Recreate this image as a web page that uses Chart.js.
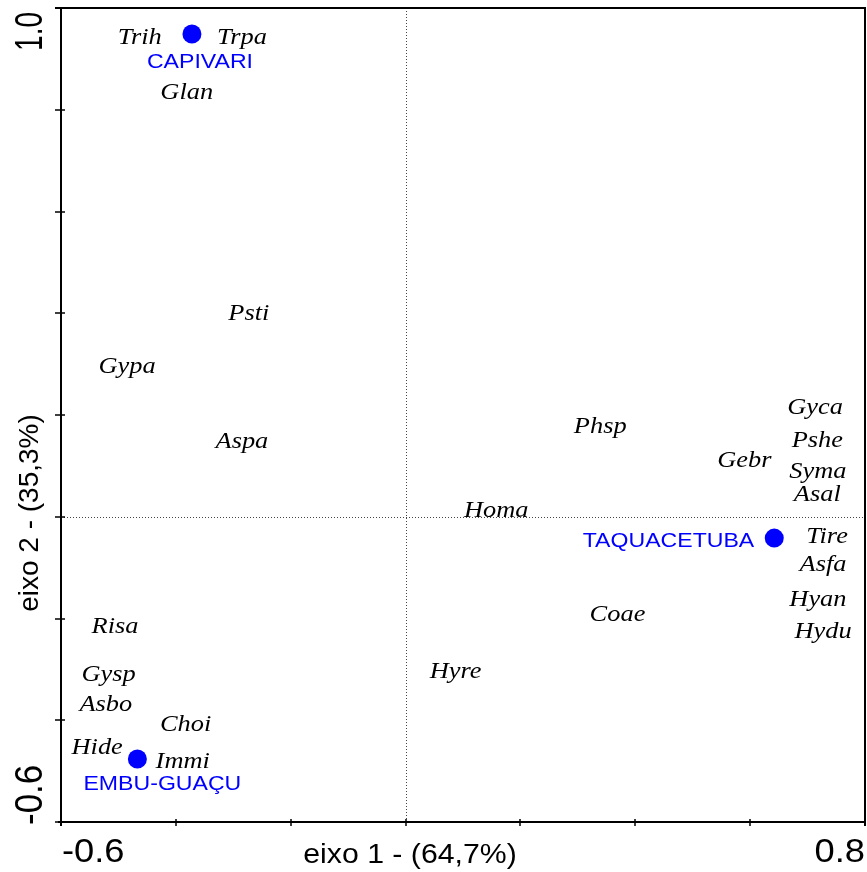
<!DOCTYPE html>
<html>
<head>
<meta charset="utf-8">
<script src="https://cdn.jsdelivr.net/npm/chart.js@4/dist/chart.umd.min.js"></script>
<style>
  html, body { margin: 0; padding: 0; background: #fff; overflow: hidden; }
  canvas { display: block; }
</style>
</head>
<body>
<canvas id="c" width="867" height="872" style="width:867px;height:872px"></canvas>
<script>
// Species scores (axis 1, axis 2)
const speciesNames = ['Trih','Trpa','Glan','Psti','Gypa','Aspa','Phsp','Gyca','Pshe','Gebr','Syma','Asal','Homa','Tire','Asfa','Coae','Hyan','Hydu','Risa','Hyre','Gysp','Asbo','Choi','Hide','Immi'];
const speciesX = [-0.463,-0.285,-0.381,-0.273,-0.485,-0.285, 0.339, 0.713, 0.717, 0.590, 0.718, 0.717, 0.158, 0.734, 0.727, 0.369, 0.718, 0.727,-0.506, 0.087,-0.517,-0.522,-0.383,-0.537,-0.388];
const speciesY = [ 0.941, 0.941, 0.833, 0.399, 0.294, 0.147, 0.178, 0.214, 0.149, 0.110, 0.088, 0.043, 0.011,-0.040,-0.095,-0.193,-0.164,-0.225,-0.217,-0.305,-0.311,-0.370,-0.409,-0.453,-0.482];

// Site scores
const siteNames = ['CAPIVARI','TAQUACETUBA','EMBU-GUAÇU'];
const siteX = [-0.372, 0.642, -0.467];
const siteY = [ 0.949,-0.042, -0.476];

// Axes
const xTicks = [-0.6,-0.4,-0.2,0,0.2,0.4,0.6,0.8];
const yTicks = [-0.6,-0.4,-0.2,0,0.2,0.4,0.6,0.8,1.0];
const xTickLabels = ['-0.6','0.8'];
const yTickLabels = ['1.0','-0.6'];
const xTitle = 'eixo 1 - (64,7%)';
const yTitle = 'eixo 2 - (35,3%)';

const BLUE = '#0000ff';
const SX = 1.1; // horizontal text stretch

function stretchedText(ctx, str, x, y, font, color, align, baseline, sx) {
  ctx.save();
  ctx.translate(x, y);
  ctx.scale(sx, 1);
  ctx.font = font;
  ctx.fillStyle = color;
  ctx.textAlign = align;
  ctx.textBaseline = baseline;
  ctx.fillText(str, 0, 0);
  ctx.restore();
}

function rotatedText(ctx, str, x, y, font, align, sx, sy) {
  ctx.save();
  ctx.translate(x, y);
  ctx.scale(sx, sy);
  ctx.rotate(-Math.PI / 2);
  ctx.font = font;
  ctx.fillStyle = '#000';
  ctx.textAlign = align;
  ctx.textBaseline = 'alphabetic';
  ctx.fillText(str, 0, 0);
  ctx.restore();
}

// label offsets for the site names, relative to their dots
const siteLabelStyle = [
  { dx: 8,   dy: 28, align: 'center' },
  { dx: -20, dy: 3,  align: 'right'  },
  { dx: 25,  dy: 25, align: 'center' }
];

const biplot = {
  id: 'biplot',
  beforeDatasetsDraw(chart) {
    const { ctx, chartArea: a, scales: { x, y } } = chart;
    ctx.save();
    ctx.strokeStyle = '#444';
    ctx.lineWidth = 1;
    ctx.setLineDash([1, 2]);
    const x0 = Math.round(x.getPixelForValue(0)) + 0.5;
    const y0 = Math.round(y.getPixelForValue(0)) + 0.5;
    ctx.beginPath();
    ctx.moveTo(x0, a.top); ctx.lineTo(x0, a.bottom);
    ctx.moveTo(a.left, y0); ctx.lineTo(a.right, y0);
    ctx.stroke();
    ctx.restore();
  },
  afterDatasetsDraw(chart) {
    const { ctx, chartArea: a, scales: { x, y } } = chart;

    // species names
    const sp = chart.getDatasetMeta(0).data;
    sp.forEach((p, i) => {
      stretchedText(ctx, speciesNames[i], p.x, p.y, 'italic 24px "Liberation Serif", "Times New Roman", serif', '#000', 'center', 'middle', SX);
    });

    // site names
    const st = chart.getDatasetMeta(1).data;
    st.forEach((p, i) => {
      const s = siteLabelStyle[i];
      stretchedText(ctx, siteNames[i], p.x + s.dx, p.y + s.dy, '21px "Liberation Sans", Arial, sans-serif', BLUE, s.align, 'middle', SX);
    });

    // frame
    ctx.save();
    ctx.strokeStyle = '#000';
    ctx.lineWidth = 2;
    ctx.beginPath();
    ctx.moveTo(a.left, a.top - 1); ctx.lineTo(a.left, a.bottom + 4);
    ctx.moveTo(a.left - 3, a.bottom); ctx.lineTo(a.right + 1, a.bottom);
    ctx.moveTo(a.left - 6, a.top); ctx.lineTo(a.right + 1, a.top);
    ctx.moveTo(a.right, a.top); ctx.lineTo(a.right, a.bottom + 4);
    ctx.stroke();

    // tick marks
    ctx.lineWidth = 1.5;
    ctx.beginPath();
    yTicks.forEach(v => {
      const py = Math.round(y.getPixelForValue(v));
      ctx.moveTo(a.left - 6, py); ctx.lineTo(a.left + 4, py);
    });
    xTicks.forEach(v => {
      const px = Math.round(x.getPixelForValue(v));
      ctx.moveTo(px, a.bottom - 3); ctx.lineTo(px, a.bottom + 4);
    });
    ctx.stroke();
    ctx.restore();

    // tick labels at the axis ends
    const tickFont = '33px "Liberation Sans", Arial, sans-serif';
    stretchedText(ctx, xTickLabels[0], x.getPixelForValue(x.min) + 1, a.bottom + 40, tickFont, '#000', 'left', 'alphabetic', SX);
    stretchedText(ctx, xTickLabels[1], x.getPixelForValue(x.max), a.bottom + 40, tickFont, '#000', 'right', 'alphabetic', SX);

    const yFont = '35px "Liberation Sans", Arial, sans-serif';
    rotatedText(ctx, yTickLabels[0], 42, y.getPixelForValue(y.max) + 4, yFont, 'right', SX, 0.8);
    rotatedText(ctx, yTickLabels[1], 42, y.getPixelForValue(y.min) + 3, yFont, 'left', SX, 1.0);

    // axis titles
    stretchedText(ctx, xTitle, 410, a.bottom + 41, '27px "Liberation Sans", Arial, sans-serif', '#000', 'center', 'alphabetic', 1.12);
    rotatedText(ctx, yTitle, 38, 513, '28px "Liberation Sans", Arial, sans-serif', 'center', 1.0, 1.0);
  }
};

new Chart(document.getElementById('c'), {
  type: 'scatter',
  data: {
    datasets: [
      {
        label: 'espécies',
        data: speciesX.map((v, i) => ({ x: v, y: speciesY[i] })),
        pointRadius: 0,
        pointHoverRadius: 0,
        backgroundColor: '#000'
      },
      {
        label: 'locais',
        data: siteX.map((v, i) => ({ x: v, y: siteY[i] })),
        pointRadius: 9.5,
        pointHoverRadius: 9.5,
        backgroundColor: BLUE,
        borderWidth: 0
      }
    ]
  },
  options: {
    responsive: false,
    maintainAspectRatio: false,
    devicePixelRatio: 1,
    animation: false,
    layout: { autoPadding: false, padding: { left: 61, top: 8, right: 2, bottom: 50 } },
    plugins: { legend: { display: false }, tooltip: { enabled: false } },
    scales: {
      x: { type: 'linear', display: false, min: -0.6, max: 0.8 },
      y: { type: 'linear', display: false, min: -0.6, max: 1.0 }
    }
  },
  plugins: [biplot]
});
</script>
</body>
</html>
